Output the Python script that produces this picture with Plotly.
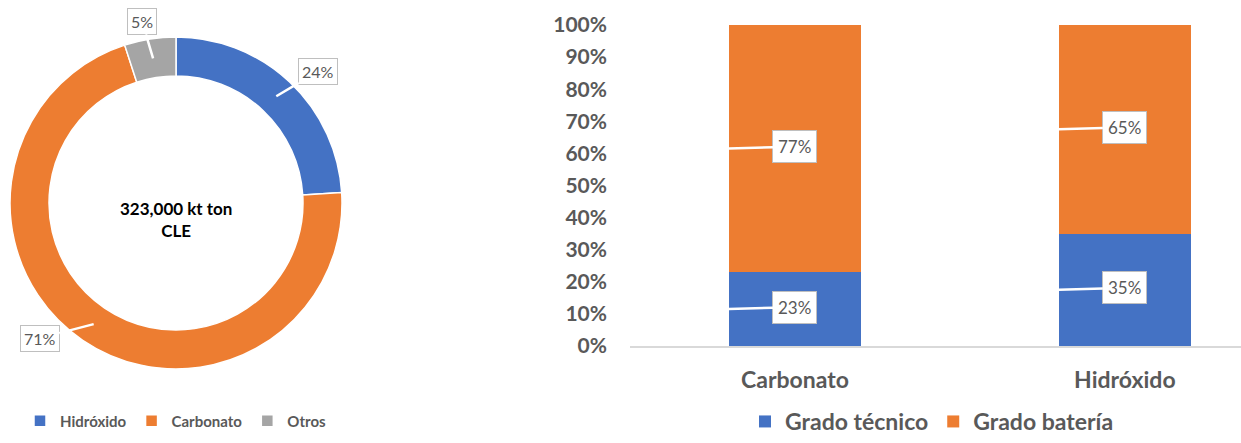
import math
import plotly.graph_objects as go

# ---- data ----
pie_labels = ["Hidróxido", "Carbonato", "Otros"]
pie_values = [24, 71, 5]
pie_colors = ["#4472C4", "#ED7D31", "#A5A5A5"]
center_text = "323,000 kt ton<br>CLE"

bar_categories = ["Carbonato", "Hidróxido"]
bar_series = ["Grado técnico", "Grado batería"]
grado_tecnico = [0.23, 0.35]
grado_bateria = [0.77, 0.65]
bar_colors = ["#4472C4", "#ED7D31"]
y_ticks = [i / 10 for i in range(11)]
y_ticklabels = [f"{i*10}%" for i in range(11)]

W, H = 1241, 443
FONT = "Lato"
GREY = "#595959"

fig = go.Figure()

# ---- donut ----
pie_x = [10 / W, 342 / W]
pie_y = [(H - 369) / H, (H - 37) / H]
hole = 0.765
fig.add_trace(go.Pie(
    labels=pie_labels, values=pie_values, hole=hole, sort=False,
    direction="clockwise", rotation=0,
    marker=dict(colors=pie_colors, line=dict(color="white", width=1.5)),
    textinfo="none", hoverinfo="skip",
    domain=dict(x=pie_x, y=pie_y), legend="legend", showlegend=True,
))

# ---- stacked bars ----
series_vals = [grado_tecnico, grado_bateria]
bar_width = 0.4
for name, vals, col in zip(bar_series, series_vals, bar_colors):
    fig.add_trace(go.Bar(
        x=list(range(len(bar_categories))), y=vals, name=name,
        marker=dict(color=col, line=dict(width=0)), width=bar_width,
        legend="legend2", hoverinfo="skip",
    ))

annotations = []
# bar data-label callouts (positioned at segment centres)
for ci in range(len(bar_categories)):
    base = 0
    for vals in series_vals:
        v = vals[ci]
        annotations.append(dict(
            x=ci - bar_width / 2, y=base + v / 2, xref="x", yref="y",
            text=f"{round(v*100)}%", showarrow=True, arrowhead=0,
            arrowwidth=2.5, arrowcolor="white", ax=66, ay=-2,
            bgcolor="white", bordercolor="#BFBFBF", borderwidth=1, borderpad=5,
            font=dict(family=FONT, size=17, color=GREY),
        ))
        base += v

# donut data-label callouts
cx = (pie_x[0] + pie_x[1]) / 2
cy = (pie_y[0] + pie_y[1]) / 2
R = 166
rmid = R * (1 + hole) / 2
total = sum(pie_values)
offsets = [(42, -25), (-54, 14), (-11, -37)]
cum = 0
for v, (ox, oy) in zip(pie_values, offsets):
    theta = 2 * math.pi * (cum + v / 2) / total
    cum += v
    annotations.append(dict(
        x=cx + rmid * math.sin(theta) / W, y=cy + rmid * math.cos(theta) / H,
        xref="paper", yref="paper", text=f"{round(100*v/total)}%",
        showarrow=True, arrowhead=0, arrowwidth=2.5, arrowcolor="white",
        ax=ox, ay=oy, bgcolor="white", bordercolor="#BFBFBF", borderwidth=1,
        borderpad=3, font=dict(family=FONT, size=16, color=GREY),
    ))

annotations.append(dict(
    x=cx, y=(H - 219) / H, xref="paper", yref="paper", showarrow=False,
    xanchor="center", yanchor="middle", text=center_text,
    font=dict(family=FONT, size=17, color="black", weight="bold"),
))

fig.update_layout(
    width=W, height=H, margin=dict(l=0, r=0, t=0, b=0),
    paper_bgcolor="white", plot_bgcolor="white",
    barmode="stack", bargap=0.6,
    font=dict(family=FONT, color=GREY),
    xaxis=dict(
        domain=[630 / W, 1.0], range=[-0.5, 1.352],
        tickmode="array", tickvals=list(range(len(bar_categories))),
        ticktext=bar_categories,
        tickfont=dict(family=FONT, size=23, color=GREY, weight="bold"),
        showline=True, linecolor="#D9D9D9", linewidth=1.5,
        showgrid=False, ticks="", ticklen=0, automargin=False,
        ticklabelstandoff=13,
    ),
    yaxis=dict(
        domain=[(H - 346) / H, (H - 25) / H], range=[0, 1],
        tickmode="array", tickvals=y_ticks, ticktext=y_ticklabels,
        tickfont=dict(family=FONT, size=21, color=GREY, weight="bold"),
        showgrid=False, zeroline=False, showline=False, ticks="",
        automargin=False, ticklabelstandoff=22,
    ),
    legend=dict(
        orientation="h", x=176 / W, xanchor="center",
        y=(H - 421) / H, yanchor="middle",
        font=dict(family=FONT, size=15, color=GREY, weight="bold"),
        traceorder="normal", itemwidth=30,
    ),
    legend2=dict(
        orientation="h", x=932 / W, xanchor="center",
        y=0, yanchor="bottom",
        font=dict(family=FONT, size=23, color=GREY, weight="bold"),
        traceorder="normal", itemwidth=30,
    ),
    annotations=annotations,
)

fig.write_html(
    "out.html",
    config={"displayModeBar": False},
    post_script="document.body.style.margin='0';document.body.style.padding='0';",
)
